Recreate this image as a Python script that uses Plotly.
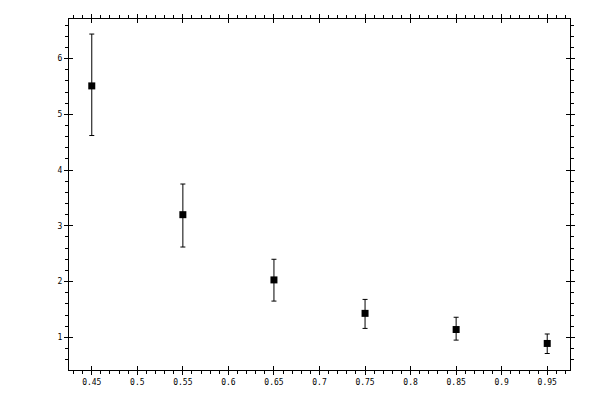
import plotly.graph_objects as go

# datos
x_vals = [0.45, 0.55, 0.65, 0.75, 0.85, 0.95]
y_vals = [5.51, 3.20, 2.03, 1.43, 1.14, 0.89]
y_sup = [6.44, 3.75, 2.40, 1.68, 1.36, 1.06]
y_inf = [4.62, 2.62, 1.65, 1.16, 0.95, 0.71]

err_plus = [s - v for s, v in zip(y_sup, y_vals)]
err_minus = [v - i for v, i in zip(y_vals, y_inf)]

fig = go.Figure()
fig.add_trace(go.Scatter(
    x=x_vals, y=y_vals, mode="markers",
    marker=dict(symbol="square", size=7, color="black", line=dict(width=0)),
    error_y=dict(type="data", symmetric=False, array=err_plus, arrayminus=err_minus,
                 color="black", thickness=1, width=2.5),
    showlegend=False,
))
# traza invisible para los ejes secundarios (ticks hacia dentro)
fig.add_trace(go.Scatter(x=[x_vals[0]], y=[y_vals[0]], xaxis="x2", yaxis="y2",
                         mode="markers", marker=dict(opacity=0), showlegend=False,
                         hoverinfo="skip"))

fuente = dict(family="DejaVu Sans Mono", size=8, color="black")
eje = dict(showline=True, linecolor="black", linewidth=1, mirror="ticks",
           showgrid=False, zeroline=False, ticks="outside", ticklen=4,
           tickcolor="black", tickwidth=1, tickfont=fuente, automargin=False)

# la pagina tiene 8px de margen en el body
fig.update_layout(
    template="none",
    width=592, height=392,
    margin=dict(l=61, r=30, t=11, b=30, pad=0),
    paper_bgcolor="white", plot_bgcolor="white",
    xaxis=dict(eje, range=[0.425, 0.975], tick0=0.45, dtick=0.05,
               minor=dict(dtick=0.01, tick0=0.45, ticks="outside", ticklen=3,
                          tickcolor="black", showgrid=False)),
    yaxis=dict(eje, range=[0.414, 6.71], tick0=1, dtick=1,
               minor=dict(dtick=0.2, tick0=1, ticks="outside", ticklen=3,
                          tickcolor="black", showgrid=False)),
    xaxis2=dict(overlaying="x", matches="x", anchor="y2", showline=False,
                showgrid=False, zeroline=False, ticks="inside", ticklen=4,
                tickcolor="black", showticklabels=False, mirror="ticks",
                tick0=0.45, dtick=0.05, range=[0.425, 0.975], automargin=False),
    yaxis2=dict(overlaying="y", matches="y", anchor="x2", showline=False,
                showgrid=False, zeroline=False, ticks="inside", ticklen=4,
                tickcolor="black", showticklabels=False, mirror="ticks",
                tick0=1, dtick=1, range=[0.414, 6.71], automargin=False),
)

fig.write_html("out.html")
